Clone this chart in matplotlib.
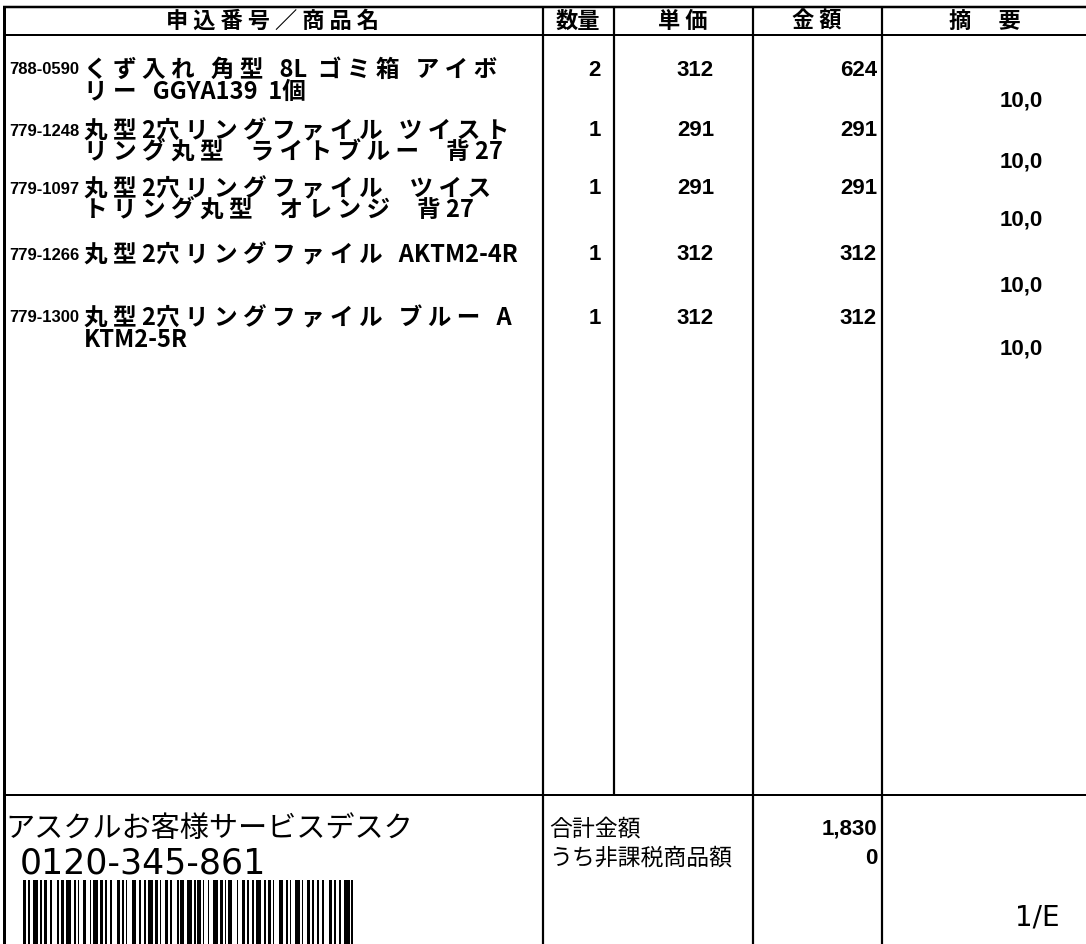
import numpy as np
import matplotlib
matplotlib.use("Agg")
from matplotlib import pyplot as plt
from matplotlib import font_manager

codes = ['788-0590', '779-1248', '779-1097', '779-1266', '779-1300']
names = [['くず入れ 角型 8L ゴミ箱 アイボ', 'リー GGYA139 1個'],
         ['丸型2穴リングファイル ツイスト', 'リング丸型  ライトブルー  背27'],
         ['丸型2穴リングファイル  ツイス', 'トリング丸型  オレンジ  背27'],
         ['丸型2穴リングファイル AKTM2-4R'],
         ['丸型2穴リングファイル ブルー A', 'KTM2-5R']]
qty = [2, 1, 1, 1, 1]
price = [312, 291, 291, 312, 312]
amount = [624, 291, 291, 312, 312]
rate = ['10,0', '10,0', '10,0', '10,0', '10,0']
headers = ['申 込 番 号 ／ 商 品 名', '数量', '単 価', '金 額', '摘　 要']
total_labels = ['合計金額', 'うち非課税商品額']
total_values = [1830, 0]
desk_name = 'アスクルお客様サービスデスク'
desk_tel = '0120-345-861'
page = '1/E'
barcode = [2, 1, 1, 2, 3, 1, 1, 1, 2, 2, 1, 3, 1, 1, 2, 1, 3, 2, 1, 1, 1, 2, 2, 2, 1, 1, 3, 1,
           2, 1, 1, 2, 1, 3, 2, 1, 1, 1, 1, 3, 2, 2, 1, 2, 1, 1, 3, 1, 2, 1, 1, 2, 2, 1, 1, 3,
           1, 1, 2, 2, 3, 1, 1, 1, 2, 1, 1, 2, 1, 2, 3, 1, 2, 1, 1, 1, 2, 3, 1, 2, 2, 1, 1, 2,
           1, 1, 3, 2, 1, 1, 2, 1, 1, 3, 2, 2, 1, 1, 1, 2, 3, 1, 1, 2, 2, 1, 1, 2, 1, 2, 1, 3,
           2, 1, 1, 2, 1, 2, 3, 1, 1]


def first_font(cands):
    have = {f.name for f in font_manager.fontManager.ttflist}
    for c in cands:
        if c in have:
            return c
    return 'DejaVu Sans'


def spaced(s):
    # the slip printer leaves a gap after every full-width glyph, wide word gaps
    out = ''
    for ch in s:
        if ch == ' ':
            out += '  '
        elif ord(ch) > 0x2E80:
            out += ch + ' '
        else:
            out += ch
    return out.rstrip()


NARROW = [first_font(['Liberation Sans Narrow', 'DejaVu Sans Condensed', 'Liberation Sans']), 'DejaVu Sans']
JP = ['Noto Sans CJK JP', 'DejaVu Sans']
plt.rcParams['font.family'] = JP

fig = plt.figure(figsize=(10.86, 9.44), dpi=100)
ax = fig.add_axes([0, 0, 1, 1])
ax.set_xlim(0, 1086)
ax.set_ylim(944, 0)
ax.axis('off')

px = 72 / 100  # pixel -> points
# grid lines
ax.hlines([7], 3, 1086, color='black', lw=2.5 * px)
ax.hlines([35, 795], 3, 1086, color='black', lw=2 * px)
ax.vlines([4], 6, 944, color='black', lw=3 * px)
ax.vlines([543, 753, 882], 7, 944, color='black', lw=2.2 * px)
ax.vlines([614], 7, 795, color='black', lw=2.2 * px)

# header
head_x = [272, 578, 683, 817, 985]
for hx, h in zip(head_x, headers):
    ax.text(hx, 21, h, ha='center', va='center', fontsize=16, fontweight='bold', family=JP)

# item rows
row_y = [70, 131, 189, 255, 318]
for y, c, nm, q, p, a, r in zip(row_y, codes, names, qty, price, amount, rate):
    ax.text(9, y, c, ha='left', va='center', fontsize=12, fontweight='bold', family=NARROW)
    for k, line in enumerate(nm):
        ax.text(84, y + 22 * k, spaced(line), ha='left', va='center', fontsize=17,
                fontweight='bold', family=JP)
    ax.text(601, y, str(q), ha='right', va='center', fontsize=16, fontweight='bold', family=NARROW)
    ax.text(714, y, str(p), ha='right', va='center', fontsize=16, fontweight='bold', family=NARROW)
    ax.text(877, y, str(a), ha='right', va='center', fontsize=16, fontweight='bold', family=NARROW)
    ax.text(1043, y + 31, r, ha='right', va='center', fontsize=16, fontweight='bold', family=NARROW)

# footer
ax.text(5, 829, desk_name, ha='left', va='center', fontsize=21, family=JP)
ax.text(20, 864, desk_tel, ha='left', va='center', fontsize=25, family=['DejaVu Sans'])
unit = 330 / sum(barcode)
edges = np.concatenate([[0], np.cumsum(barcode)]) * unit + 23
ax.bar(edges[:-1:2], 66, width=np.array(barcode[::2]) * unit, bottom=880,
       align='edge', color='black', lw=0)

for k, (lab, val) in enumerate(zip(total_labels, total_values)):
    ax.text(549, 829 + 29 * k, lab, ha='left', va='center', fontsize=16.5, family=JP)
    ax.text(877, 829 + 29 * k, f'{val:,}', ha='right', va='center', fontsize=16,
            fontweight='bold', family=NARROW)
ax.text(1060, 918, page, ha='right', va='center', fontsize=20, family=['DejaVu Sans'])

plt.savefig('out.png', dpi=100)
